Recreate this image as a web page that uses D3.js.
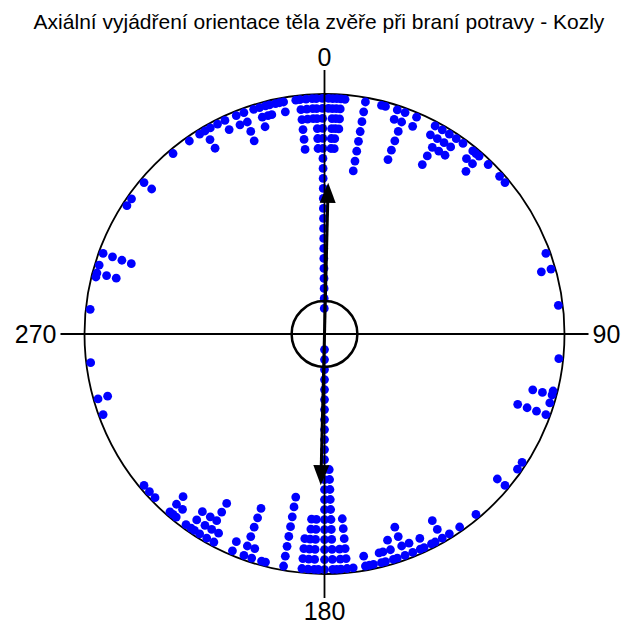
<!DOCTYPE html>
<html>
<head>
<meta charset="utf-8">
<script src="https://cdn.jsdelivr.net/npm/d3@7/dist/d3.min.js"></script>
<style>
  body { margin: 0; background: #fff; }
  text { font-family: "Liberation Sans", Arial, sans-serif; fill: #000; }
</style>
</head>
<body>
<svg id="chart" width="623" height="630"></svg>
<script>
// Body orientation while feeding (degrees, clockwise from north)
// and the number of observations recorded at each direction.
const angles = [
  1, 2, 3, 4, 5, 10, 14, 15, 18, 20, 23, 28, 30, 32, 34, 36, 39, 40, 41, 44, 48, 50,
  70, 74, 83, 96, 104, 105, 107, 110, 123, 125, 130, 140, 145, 148, 150, 152, 153, 155,
  156, 158, 160, 162, 163, 165, 166, 168, 169, 170, 173, 174.5, 176, 177, 178, 180,
  181.5, 182.5, 184, 185.5, 190, 194.5, 195.5, 198, 200, 203, 208, 210, 212, 213.5,
  214.5, 216, 219, 220, 221, 226, 228, 230, 250, 254, 263, 276, 284, 285, 287, 290,
  303, 305, 310, 320, 325, 328, 329.5, 331, 333, 335, 338, 340, 342.5, 344, 345.5,
  346.5, 348, 349, 350, 353, 354, 355.5, 357, 358, 359.5
];
const counts = [
  2, 6, 6, 4, 1, 8, 1, 1, 2, 6, 2, 2, 5, 3, 3, 1, 2, 1, 3, 1, 1, 1,
  1, 2, 1, 1, 1, 3, 1, 4, 1, 1, 2, 1, 1, 1, 3, 1, 1, 2,
  1, 2, 4, 1, 3, 2, 2, 1, 1, 2, 1, 6, 3, 1, 11, 23,
  1, 6, 6, 4, 8, 1, 1, 2, 6, 2, 2, 5, 3, 1,
  3, 1, 2, 1, 3, 1, 1, 1, 1, 2, 1, 1, 1, 3, 1, 4,
  1, 1, 2, 1, 1, 1, 3, 1, 1, 2, 2, 4, 1, 3, 2,
  2, 1, 1, 2, 1, 6, 3, 3, 6, 22
];

// Compass labels
const compassAngles = [0, 90, 180, 270];
const compassLabels = ["0", "90", "180", "270"];

const title = "Axiální vyjádření orientace těla zvěře při braní potravy - Kozly";

// Axial mean direction and mean vector length
const meanAngle = 1.4;
const meanLength = 0.63;
// Radius of the central reference circle (fraction of the plot radius)
const centreCircle = 0.137;

const cx = 324.5, cy = 334, R = 240;
const dotR = 4.4, step = 10;

const svg = d3.select("#chart");

const angle = d3.scaleLinear().domain([0, 360]).range([0, 2 * Math.PI]);
const radius = d3.scaleLinear().domain([0, 1]).range([0, R]);
// stacking level -> distance from centre; level 0 sits against the rim
const level = d3.scaleLinear().domain([0, 1]).range([R - dotR, R - dotR - step]);

svg.append("text")
  .attr("x", 319).attr("y", 29)
  .attr("text-anchor", "middle")
  .style("font-size", "21px")
  .text(title);

const g = svg.append("g").attr("transform", `translate(${cx},${cy})`);

// Outer circle
g.append("circle")
  .attr("r", R)
  .attr("fill", "none")
  .attr("stroke", "#000")
  .attr("stroke-width", 1.8);

// Stacked dots
const dots = [];
angles.forEach((a, i) => {
  for (let k = 0; k < counts[i]; k++) dots.push({ a, k });
});

g.append("g").selectAll("circle")
  .data(dots)
  .join("circle")
  .attr("cx", d => d3.pointRadial(angle(d.a), level(d.k))[0])
  .attr("cy", d => d3.pointRadial(angle(d.a), level(d.k))[1])
  .attr("r", dotR)
  .attr("fill", "#0000ff");

// Cross-hair axes
const axisExt = R + 24;
g.append("g").selectAll("line")
  .data([0, 90])
  .join("line")
  .attr("x1", d => d3.pointRadial(angle(d), axisExt)[0])
  .attr("y1", d => d3.pointRadial(angle(d), axisExt)[1])
  .attr("x2", d => d3.pointRadial(angle(d + 180), axisExt)[0])
  .attr("y2", d => d3.pointRadial(angle(d + 180), axisExt)[1])
  .attr("stroke", "#000")
  .attr("stroke-width", 1.8);

// Compass labels
const labelOff = R + 28;
const anchor = { 0: "middle", 90: "start", 180: "middle", 270: "end" };
const dy = { 0: "0em", 90: "0.35em", 180: "0.72em", 270: "0.35em" };
g.append("g").selectAll("text")
  .data(compassAngles)
  .join("text")
  .attr("x", d => d3.pointRadial(angle(d), labelOff)[0])
  .attr("y", d => d3.pointRadial(angle(d), labelOff)[1])
  .attr("text-anchor", d => anchor[d])
  .attr("dy", d => dy[d])
  .style("font-size", "25px")
  .text((d, i) => compassLabels[i]);

// Central circle
g.append("circle")
  .attr("r", radius(centreCircle))
  .attr("fill", "none")
  .attr("stroke", "#000")
  .attr("stroke-width", 2.5);

// Axial mean vector, drawn in both directions
const tipLen = radius(meanLength);
const headLen = 20, headHalf = 8;
const ends = [meanAngle, meanAngle + 180];
const p0 = d3.pointRadial(angle(ends[0]), tipLen - headLen + 2);
const p1 = d3.pointRadial(angle(ends[1]), tipLen - headLen + 2);
g.append("line")
  .attr("x1", p0[0]).attr("y1", p0[1])
  .attr("x2", p1[0]).attr("y2", p1[1])
  .attr("stroke", "#000")
  .attr("stroke-width", 3);

g.append("g").selectAll("path")
  .data(ends)
  .join("path")
  .attr("d", d => {
    const a = angle(d);
    const tip = d3.pointRadial(a, tipLen);
    const base = d3.pointRadial(a, tipLen - headLen);
    const px = Math.cos(a) * headHalf, py = Math.sin(a) * headHalf;
    return `M${tip[0]},${tip[1]}L${base[0] + px},${base[1] + py}L${base[0] - px},${base[1] - py}Z`;
  })
  .attr("fill", "#000");
</script>
</body>
</html>
